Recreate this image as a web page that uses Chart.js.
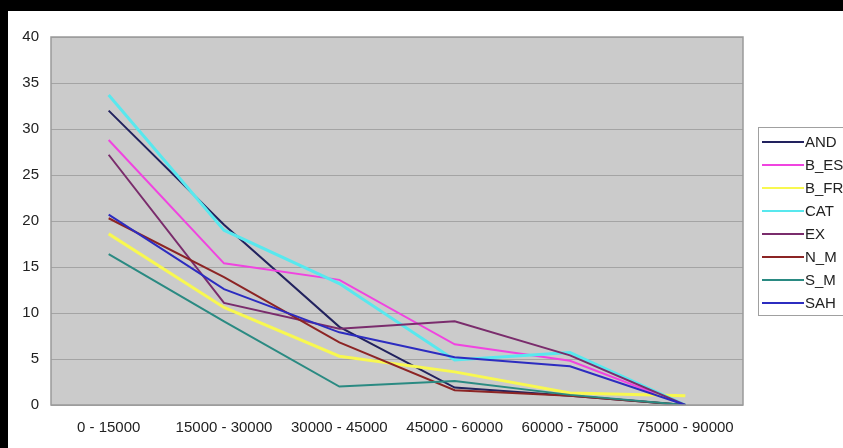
<!DOCTYPE html>
<html>
<head>
<meta charset="utf-8">
<script src="https://cdn.jsdelivr.net/npm/chart.js@4/dist/chart.umd.min.js"></script>
<style>
html,body{margin:0;padding:0;background:#000;}
#wrap{position:absolute;left:0;top:0;width:843px;height:448px;}
</style>
</head>
<body>
<div id="wrap"><canvas id="c" width="843" height="448"></canvas></div>
<script>
const categories = ["0 - 15000","15000 - 30000","30000 - 45000","45000 - 60000","60000 - 75000","75000 - 90000"];
const seriesNames = ["AND","B_ES","B_FR","CAT","EX","N_M","S_M","SAH"];
const AND  = [32.0, 19.6, 8.5, 1.9, 1.0, 0];
const B_ES = [28.8, 15.4, 13.6, 6.6, 4.8, 0];
const B_FR = [18.6, 10.6, 5.3, 3.6, 1.3, 1.0];
const CAT  = [33.7, 19.0, 13.2, 4.9, 5.7, 0];
const EX   = [27.2, 11.1, 8.3, 9.1, 5.4, 0];
const N_M  = [20.3, 13.9, 6.8, 1.6, 1.0, 0];
const S_M  = [16.4, 9.1, 2.0, 2.6, 1.1, 0];
const SAH  = [20.7, 12.6, 7.9, 5.2, 4.2, 0];
const yTicks = [0,5,10,15,20,25,30,35,40];

const values = [AND,B_ES,B_FR,CAT,EX,N_M,S_M,SAH];
const colors = ["#22225e","#f044e0","#f8f850","#58e8ee","#7a2c6c","#8c2424","#2a8a82","#2c2cc0"];
const widths = [2,2,3,3,2,2,2,2];

const FONT = "'Liberation Sans', Arial, sans-serif";

const framePlugin = {
  id:'frame',
  beforeDraw(chart){
    const ctx = chart.ctx;
    ctx.save();
    ctx.fillStyle = '#000';
    ctx.fillRect(0,0,chart.width,chart.height);
    ctx.fillStyle = '#fff';
    ctx.fillRect(8,11,chart.width-8,chart.height-11);
    const a = chart.chartArea;
    ctx.fillStyle = '#cbcbcb';
    ctx.fillRect(a.left,a.top,a.right-a.left,a.bottom-a.top);
    ctx.restore();
  },
  afterDatasetsDraw(chart){
    const ctx = chart.ctx;
    const a = chart.chartArea;
    ctx.save();
    ctx.strokeStyle = '#9a9a9a';
    ctx.lineWidth = 1.5;
    ctx.strokeRect(a.left,a.top,a.right-a.left,a.bottom-a.top);
    // legend
    const lx = 758, ly = 127, lw = 95, lh = 188;
    ctx.fillStyle = '#fff';
    ctx.fillRect(lx,ly,lw,lh);
    ctx.strokeStyle = '#a0a0a0';
    ctx.lineWidth = 1;
    ctx.strokeRect(lx+0.5,ly+0.5,lw,lh);
    ctx.font = '15px ' + FONT;
    ctx.textBaseline = 'middle';
    ctx.textAlign = 'left';
    chart.data.datasets.forEach((ds,i)=>{
      const y = 142 + i*23;
      ctx.strokeStyle = ds.borderColor;
      ctx.lineWidth = 2;
      ctx.beginPath();
      ctx.moveTo(762,y);
      ctx.lineTo(804,y);
      ctx.stroke();
      ctx.fillStyle = '#222';
      ctx.fillText(ds.label, 805, y+1);
    });
    ctx.restore();
  }
};

new Chart(document.getElementById('c'), {
  type:'line',
  data:{
    labels: categories,
    datasets: seriesNames.map((n,i)=>({
      label:n,
      data: values[i],
      borderColor: colors[i],
      backgroundColor: colors[i],
      borderWidth: widths[i],
      pointRadius:0,
      tension:0,
      fill:false,
      order: seriesNames.length - i
    }))
  },
  options:{
    responsive:false,
    animation:false,
    devicePixelRatio:1,
    layout:{padding:{left:0,top:37,right:100,bottom:0}},
    plugins:{legend:{display:false},tooltip:{enabled:false}},
    scales:{
      x:{
        offset:true,
        grid:{display:false,drawTicks:false},
        border:{display:false},
        ticks:{font:{family:FONT,size:15},color:'#222',padding:14,maxRotation:0,autoSkip:false},
        afterFit(s){ s.height = 43; }
      },
      y:{
        min:0,max:40,
        afterBuildTicks(s){ s.ticks = yTicks.map(v=>({value:v})); },
        grid:{color:'#a4a4a4',lineWidth:1,drawTicks:false},
        border:{display:false},
        ticks:{font:{family:FONT,size:15},color:'#222',padding:12},
        afterFit(s){ s.width = 51; }
      }
    }
  },
  plugins:[framePlugin]
});
</script>
</body>
</html>
